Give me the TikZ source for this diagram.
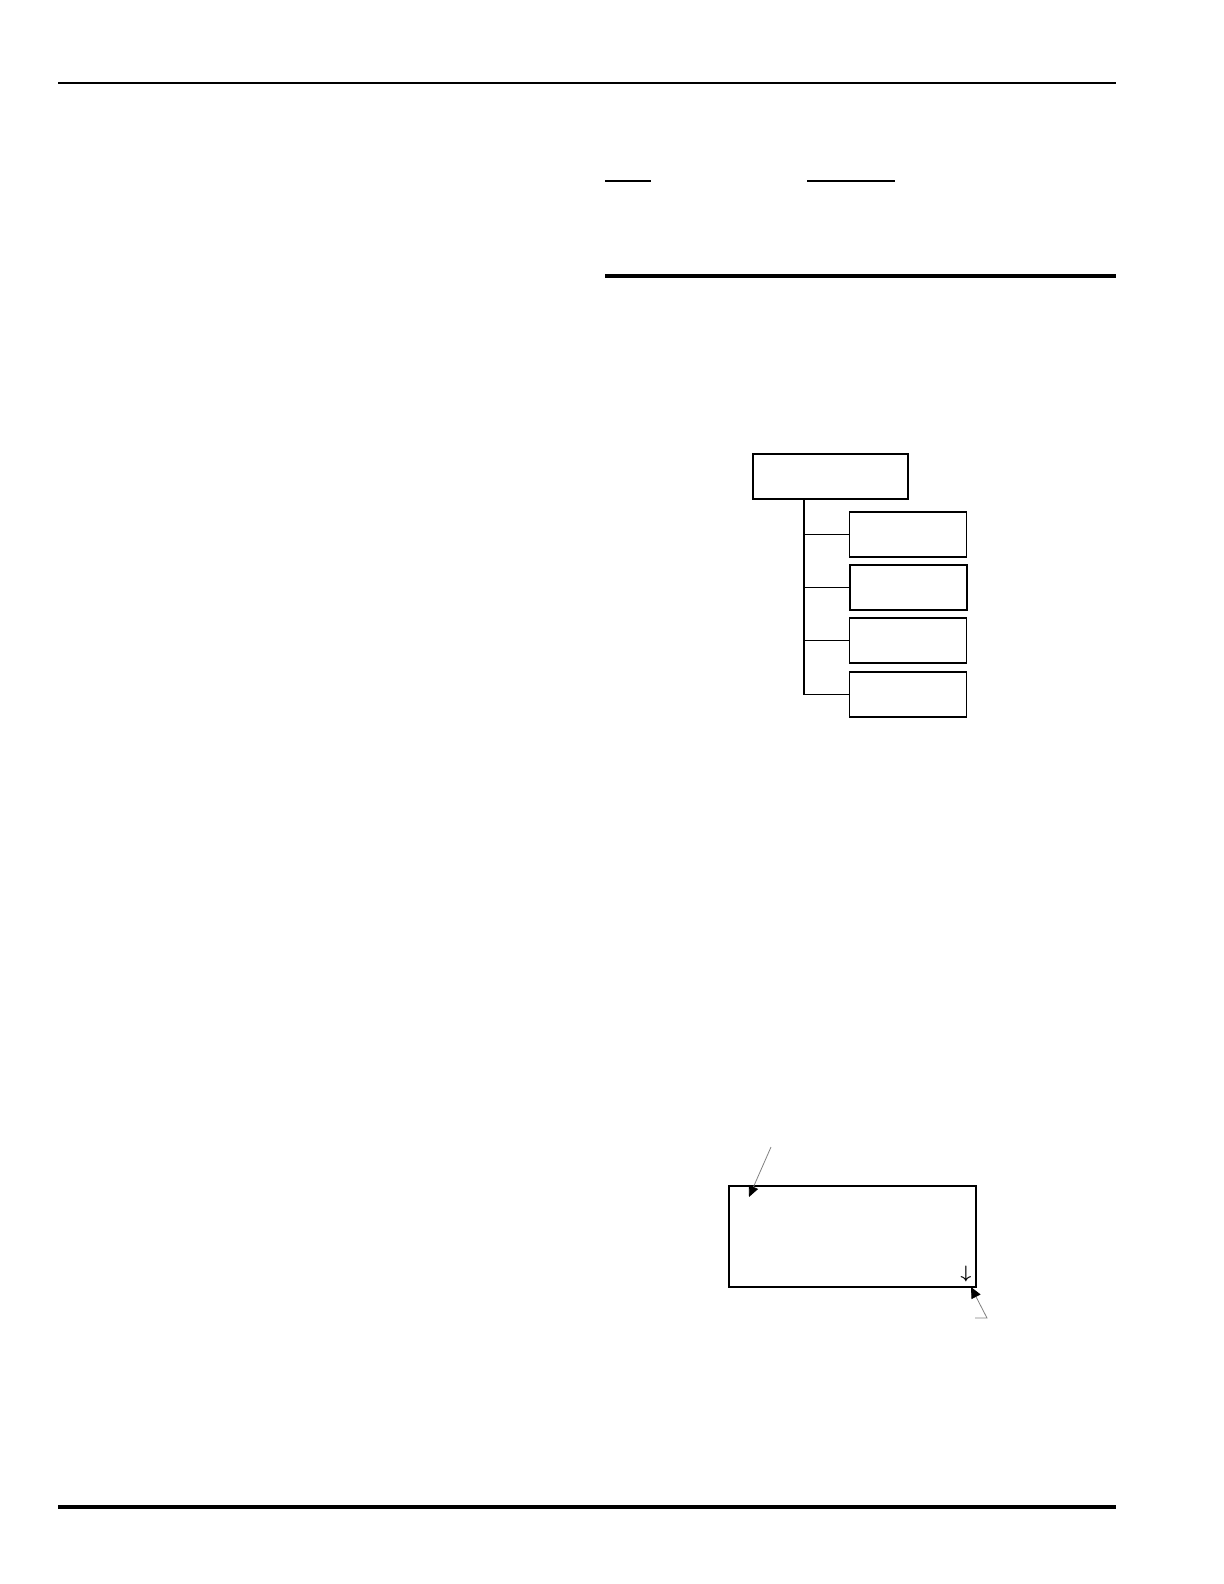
\documentclass[tikz,border=0pt]{standalone}
\usepackage{amsmath}
\usepackage{amssymb}
\usetikzlibrary{positioning, arrows.meta}

\begin{document}
\begin{tikzpicture}[x=0.5pt, y=-0.5pt, node distance=3.2pt,
        menubox/.style={draw, line width=0.65pt, minimum width=58.5pt, minimum height=22.5pt, inner sep=0pt},
        callout/.style={draw=black!50, line width=0.4pt, -{Triangle[length=5.5pt, width=5pt, color=black]}}]
                \useasboundingbox (0,0) rectangle (1224,1584);

                % page rules
                \draw[line width=0.75pt] (58,83) -- (1116,83);
                \draw[line width=0.75pt] (605,181) -- (651,181);
                \draw[line width=0.75pt] (807,181) -- (895,181);
                \draw[line width=2pt] (605,276) -- (1116,276);
                \draw[line width=2.2pt] (58,1507) -- (1116,1507);

                % menu tree
                \node[menubox, minimum width=77.5pt] (root) at (830.5,476.5) {};
                \node[menubox] (m1) at (908,534.5) {};
                \node[menubox, line width=1pt] (m2) [below=of m1] {};
                \node[menubox] (m3) [below=of m2] {};
                \node[menubox] (m4) [below=3.85pt of m3] {};
                \coordinate (trunk) at (804,499);

                \draw[line width=0.65pt] (trunk) -- (trunk |- m4.west);
                \foreach \m in {m1, m2, m3, m4} {
                        \draw[line width=0.65pt] (trunk |- \m.west) -- (\m.west);
                }

                % display window
                \node[draw, line width=0.85pt, minimum width=123.5pt, minimum height=50.5pt, inner sep=0pt] (disp) at (852.5,1236.5) {};
                \node[inner sep=0pt, font=\small\boldmath] (scroll) at (966,1274) {$\downarrow$};

                % callouts
                \coordinate (tailA) at (771,1147);
                \coordinate (tipA) at (749,1197);
                \draw[callout] (tailA) -- (tipA);
                \coordinate (tickB) at (975,1318);
                \coordinate (tailB) at (987,1318);
                \coordinate (tipB) at (971,1287);
                \draw[callout] (tickB) -- (tailB) -- (tipB);
        \end{tikzpicture}
\end{document}
